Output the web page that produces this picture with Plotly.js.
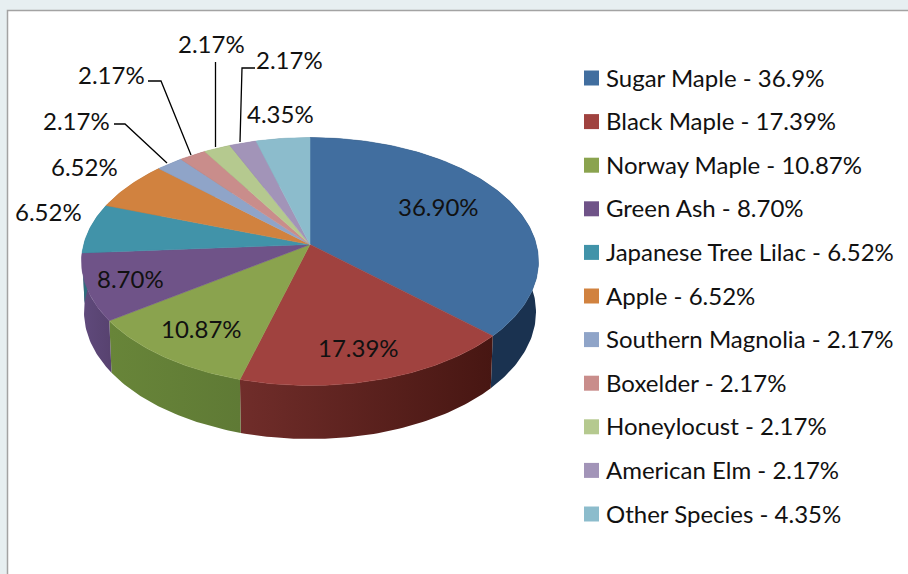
<!DOCTYPE html>
<html><head><meta charset="utf-8">
<script src="https://cdn.plot.ly/plotly-3.0.1.min.js"></script>
<style>html,body{margin:0;padding:0;background:#e7eff1}#c{width:908px;height:574px}</style>
</head><body><div id="c"></div>
<script>
const species = ["Sugar Maple","Black Maple","Norway Maple","Green Ash","Japanese Tree Lilac","Apple","Southern Magnolia","Boxelder","Honeylocust","American Elm","Other Species"];
const shares = [36.90,17.39,10.87,8.70,6.52,6.52,2.17,2.17,2.17,2.17,4.35];
const sliceLabels = ["36.90%","17.39%","10.87%","8.70%","6.52%","6.52%","2.17%","2.17%","2.17%","2.17%","4.35%"];
const legendLabels = ["Sugar Maple - 36.9%","Black Maple - 17.39%","Norway Maple - 10.87%","Green Ash - 8.70%","Japanese Tree Lilac - 6.52%","Apple - 6.52%","Southern Magnolia - 2.17%","Boxelder - 2.17%","Honeylocust - 2.17%","American Elm - 2.17%","Other Species - 4.35%"];
const topColors = ["#416e9f","#a0423f","#8aa34e","#6f5388","#4193a9","#d1823f","#8fa4c8","#c98d8b","#b5c98f","#a294b8","#8cbccc"];
const wallColorsA = ["#1a3250","#702d2a","#688539","#604a7c","#2f6c7c","#9a5f2e","#6a7a95","#956866","#85956a","#786e89","#688b97"];
const wallColorsB = ["#1a3250","#471612","#5f7a35","#57426f","#2f6c7c","#9a5f2e","#6a7a95","#956866","#85956a","#786e89","#688b97"];

const labelX = [438,358,201,130,48,84,76,111,211,289,280];
const labelY = [206,347,328,278,211,166,120,74,43,59,113];
const leaders = [
  [[114,124],[125,124],[167,163]],
  [[148,81],[161,81],[191,155]],
  [[215.5,62],[215.5,147]],
  [[255,68],[242,68],[240,142]]
];

const FONT = "Lato, Carlito, Calibri, sans-serif";
const TOP = {cx:310, cy:261.5, rx:228.5, ry:124};
const BOTTOM = {cx:310, cy:312, rx:226, ry:127};
const TILT = 0.137;

function project(theta, e){
  const u = Math.sin(theta), v = -Math.cos(theta);
  const d = 1 - TILT*v;
  return [e.cx + e.rx*u*Math.sqrt(1-TILT*TILT)/d, e.cy + e.ry*(v-TILT)/d];
}
function arc(t0,t1,e){
  const n = Math.max(2, Math.ceil((t1-t0)/(Math.PI/180)));
  const pts=[];
  for(let i=0;i<=n;i++) pts.push(project(t0+(t1-t0)*i/n,e));
  return pts;
}
const total = shares.reduce((a,b)=>a+b,0);
const walls=[], faces=[];
let acc=0;
shares.forEach((s,i)=>{
  const t0=acc/total*2*Math.PI; acc+=s; const t1=acc/total*2*Math.PI;
  const upper=arc(t0,t1,TOP), lower=arc(t0,t1,BOTTOM).reverse();
  const w=upper.concat(lower); w.push(upper[0]);
  walls.push({type:"scatter",mode:"lines",x:w.map(p=>p[0]),y:w.map(p=>p[1]),fill:"toself",
    line:{width:0,color:wallColorsB[i]},
    fillgradient:{type:"horizontal",colorscale:[[0,wallColorsA[i]],[1,wallColorsB[i]]]},
    hoverinfo:"skip",showlegend:false});
  const apex=[TOP.cx, TOP.cy-TOP.ry*TILT];
  const f=[apex].concat(upper); f.push(apex);
  faces.push({type:"scatter",mode:"lines",name:species[i],x:f.map(p=>p[0]),y:f.map(p=>p[1]),
    fill:"toself",fillcolor:topColors[i],line:{width:0.5,color:topColors[i]},
    text:legendLabels[i],hoverinfo:"text",showlegend:false});
});

const legendX=591.5, legendTop=78, legendStep=43.6;
const legendTrace={type:"scatter",mode:"markers",x:species.map(()=>legendX),y:species.map((_,i)=>legendTop+i*legendStep),
  marker:{symbol:"square",size:15,color:topColors,line:{width:0}},hoverinfo:"skip",showlegend:false};

const annotations = sliceLabels.map((t,i)=>({x:labelX[i],y:labelY[i],xref:"x",yref:"y",text:t,showarrow:false,
  xanchor:"center",yanchor:"middle",font:{family:FONT,size:24,color:"#111"}}))
 .concat(legendLabels.map((t,i)=>({x:606,y:legendTop-1+i*legendStep,xref:"x",yref:"y",text:t,showarrow:false,
  xanchor:"left",yanchor:"middle",xshift:-2,font:{family:FONT,size:24,color:"#111"}})));

const shapes=[{type:"rect",layer:"below",xref:"x",yref:"y",x0:7.5,y0:10.5,x1:930,y1:600,fillcolor:"#ffffff",line:{color:"#a3a3a3",width:1.5}}]
 .concat(leaders.map(l=>({type:"path",xref:"x",yref:"y",path:l.map((p,i)=>(i?"L":"M")+p[0]+" "+p[1]).join(" "),line:{color:"#000",width:1.3}})));

Plotly.newPlot("c",walls.concat(faces,[legendTrace]),{
  width:908,height:574,margin:{l:0,r:0,t:0,b:0},paper_bgcolor:"#e7eff1",plot_bgcolor:"rgba(0,0,0,0)",
  xaxis:{range:[0,908],visible:false,fixedrange:true},
  yaxis:{range:[574,0],visible:false,fixedrange:true},
  showlegend:false,annotations,shapes,hovermode:"closest"
},{displayModeBar:false});
</script></body></html>
